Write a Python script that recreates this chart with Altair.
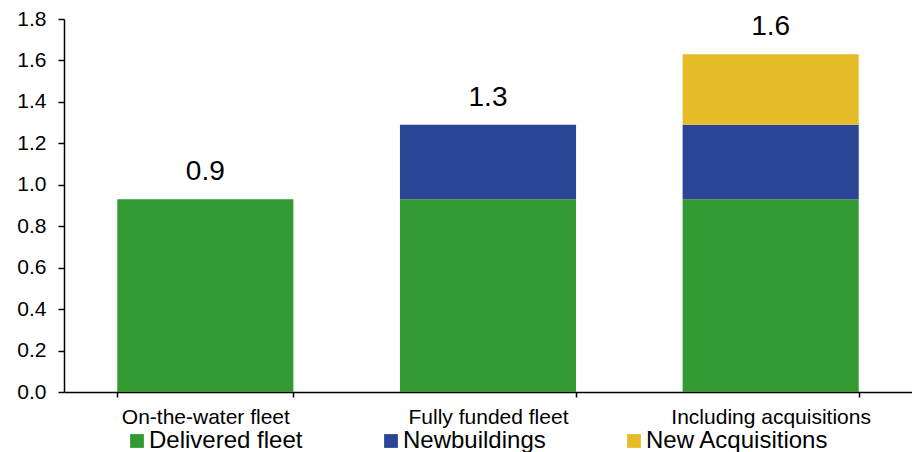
import altair as alt
import pandas as pd

categories = ["On-the-water fleet", "Fully funded fleet", "Including acquisitions"]
series = ["Delivered fleet", "Newbuildings", "New Acquisitions"]
delivered = [0.93, 0.93, 0.93]
newbuildings = [0.0, 0.36, 0.36]
acquisitions = [0.0, 0.0, 0.34]
colors = ["#339933", "#2B4596", "#E5BB27"]

rows = []
for s_i, (s, vals) in enumerate(zip(series, [delivered, newbuildings, acquisitions])):
    for c, v in zip(categories, vals):
        rows.append({"category": c, "series": s, "value": v, "order": s_i})
df = pd.DataFrame(rows)

FONT = "Liberation Sans"

x = alt.X("category:N", sort=categories, title=None,
          scale=alt.Scale(paddingInner=0.377, paddingOuter=0.1885),
          axis=alt.Axis(labelAngle=0, tickBand="extent", tickSize=5, tickColor="black",
                        tickWidth=1.5, domainColor="black", domainWidth=1.5,
                        labelFont=FONT, labelFontSize=21, labelColor="black",
                        labelPadding=9, grid=False, labelLimit=400))

bars = alt.Chart(df).mark_bar().encode(
    x=x,
    y=alt.Y("value:Q", stack="zero", title=None,
            scale=alt.Scale(domain=[0, 1.8], nice=False),
            axis=alt.Axis(values=[0, 0.2, 0.4, 0.6, 0.8, 1.0, 1.2, 1.4, 1.6, 1.8],
                          format=".1f", tickSize=6, tickColor="black", tickWidth=1.5,
                          domainColor="black", domainWidth=1.5, grid=False,
                          labelFont=FONT, labelFontSize=21, labelColor="black",
                          labelPadding=12)),
    color=alt.Color("series:N", sort=series,
                    scale=alt.Scale(domain=series, range=colors),
                    legend=alt.Legend(title=None, orient="none", legendX=61, legendY=410,
                                      direction="horizontal", columns=3, columnPadding=76,
                                      symbolType="square", symbolSize=190,
                                      symbolStrokeWidth=0, labelOffset=0,
                                      labelFont=FONT, labelFontSize=24,
                                      labelColor="black", padding=0, labelLimit=400)),
    order=alt.Order("order:Q", sort="ascending"),
)

labels = alt.Chart(df).transform_aggregate(
    total="sum(value)", groupby=["category"]
).mark_text(font=FONT, fontSize=28, baseline="alphabetic", dy=-19, color="black").encode(
    x=alt.X("category:N", sort=categories),
    y=alt.Y("total:Q"),
    text=alt.Text("total:Q", format=".1f"),
)

chart = alt.layer(bars, labels).properties(
    width=848, height=373,
    autosize=alt.AutoSizeParams(type="none"),
    padding={"left": 64, "top": 19, "right": 0, "bottom": 60},
).configure_view(stroke=None)

chart.save("out.html", embed_options={"renderer": "svg", "actions": False})
